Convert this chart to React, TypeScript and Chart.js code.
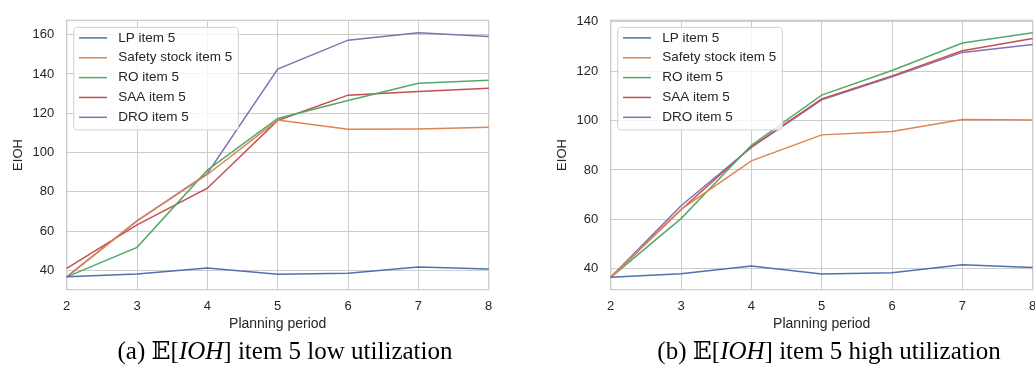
import React, { useEffect, useRef } from 'react';
import { Chart, registerables } from 'chart.js';

Chart.register(...registerables);

// ---- data ----
const periods = ['2', '3', '4', '5', '6', '7', '8'];
const seriesNames = ['LP item 5', 'Safety stock item 5', 'RO item 5', 'SAA item 5', 'DRO item 5'];
const seriesColors = ['#4C72B0', '#DD8452', '#55A868', '#C44E52', '#8172B3'];

const lowLP = [36.7, 38.2, 41.2, 38.0, 38.5, 41.7, 40.7];
const lowSafety = [36.7, 65.2, 88.8, 116.5, 111.8, 112.0, 112.8];
const lowRO = [36.7, 51.7, 91.0, 117.3, 126.5, 135.2, 136.8];
const lowSAA = [41.0, 63.2, 81.8, 116.3, 129.2, 131.0, 132.7];
const lowDRO = [36.7, 65.2, 89.3, 142.5, 157.2, 161.0, 159.0];

const highLP = [36.5, 38.0, 41.1, 37.9, 38.4, 41.6, 40.5];
const highSafety = [36.5, 64.0, 83.7, 94.2, 95.6, 100.4, 100.2];
const highRO = [36.5, 60.3, 90.0, 110.3, 120.3, 131.4, 135.6];
const highSAA = [36.5, 63.9, 89.4, 108.8, 118.1, 128.3, 133.2];
const highDRO = [36.5, 65.5, 89.1, 108.4, 117.7, 127.6, 130.8];

const lowTicks = [40, 60, 80, 100, 120, 140, 160];
const highTicks = [40, 60, 80, 100, 120, 140];

const SANS = '"Liberation Sans", Arial, Helvetica, sans-serif';
const TEXT = '#262626';
const GRID = '#cccccc';

const framePlugin = {
  id: 'frame',
  beforeDatasetsDraw(chart: any) {
    const { ctx, chartArea: a } = chart;
    ctx.save();
    ctx.strokeStyle = GRID;
    ctx.lineWidth = 1.25;
    ctx.strokeRect(a.left, a.top, a.right - a.left, a.bottom - a.top);
    ctx.restore();
  },
};

const legendPlugin = {
  id: 'insideLegend',
  afterDatasetsDraw(chart: any) {
    const { ctx, chartArea: a } = chart;
    ctx.save();
    ctx.font = `13.5px ${SANS}`;
    const names: string[] = chart.data.datasets.map((d: any) => d.label);
    const maxW = Math.max(...names.map((n) => ctx.measureText(n).width));
    const x0 = a.left + 7;
    const y0 = a.top + 7;
    const w = 44.6 + maxW + 6;
    const h = 102.6;
    const r = 3;
    ctx.beginPath();
    ctx.moveTo(x0 + r, y0);
    ctx.lineTo(x0 + w - r, y0);
    ctx.arcTo(x0 + w, y0, x0 + w, y0 + r, r);
    ctx.lineTo(x0 + w, y0 + h - r);
    ctx.arcTo(x0 + w, y0 + h, x0 + w - r, y0 + h, r);
    ctx.lineTo(x0 + r, y0 + h);
    ctx.arcTo(x0, y0 + h, x0, y0 + h - r, r);
    ctx.lineTo(x0, y0 + r);
    ctx.arcTo(x0, y0, x0 + r, y0, r);
    ctx.closePath();
    ctx.fillStyle = 'rgba(255,255,255,0.8)';
    ctx.fill();
    ctx.strokeStyle = '#d0d0d0';
    ctx.lineWidth = 1;
    ctx.stroke();
    chart.data.datasets.forEach((d: any, i: number) => {
      const cy = y0 + 10.6 + i * 19.85;
      ctx.beginPath();
      ctx.strokeStyle = d.borderColor;
      ctx.lineWidth = 1.5;
      ctx.moveTo(x0 + 5.3, cy);
      ctx.lineTo(x0 + 33.3, cy);
      ctx.stroke();
      ctx.fillStyle = TEXT;
      ctx.textBaseline = 'middle';
      ctx.textAlign = 'left';
      ctx.fillText(d.label, x0 + 44.6, cy);
    });
    ctx.restore();
  },
};

type PanelProps = {
  series: number[][];
  yMin: number;
  yMax: number;
  yTicks: number[];
  left: number;
};

function Panel({ series, yMin, yMax, yTicks, left }: PanelProps) {
  const ref = useRef<HTMLCanvasElement>(null);
  useEffect(() => {
    const chart = new Chart(ref.current as HTMLCanvasElement, {
      type: 'line',
      data: {
        labels: periods,
        datasets: series.map((d, i) => ({
          label: seriesNames[i],
          data: d,
          borderColor: seriesColors[i],
          backgroundColor: seriesColors[i],
          borderWidth: 1.5,
          pointRadius: 0,
          tension: 0,
          fill: false,
        })),
      },
      options: {
        animation: false,
        responsive: false,
        devicePixelRatio: 1,
        layout: { padding: { top: 15.7, right: 31.3, left: 0, bottom: 0 } },
        plugins: { legend: { display: false }, tooltip: { enabled: false } },
        scales: {
          x: {
            type: 'category',
            offset: false,
            grid: { color: GRID, lineWidth: 1, drawTicks: false },
            border: { display: false },
            ticks: { color: TEXT, font: { family: SANS, size: 13 }, padding: 9, maxRotation: 0 },
            title: {
              display: true,
              text: 'Planning period',
              color: TEXT,
              font: { family: SANS, size: 14 },
              padding: { top: 0, bottom: 7 },
            },
            afterFit: (s: any) => {
              s.height = 50.3;
            },
          },
          y: {
            type: 'linear',
            min: yMin,
            max: yMax,
            afterBuildTicks: (s: any) => {
              s.ticks = yTicks.map((v) => ({ value: v }));
            },
            grid: { color: GRID, lineWidth: 1, drawTicks: false },
            border: { display: false },
            ticks: { color: TEXT, font: { family: SANS, size: 13 }, padding: 12.5 },
            title: {
              display: true,
              text: 'EIOH',
              color: TEXT,
              font: { family: SANS, size: 13 },
              padding: { top: 10.5, bottom: 0 },
            },
            afterFit: (s: any) => {
              s.width = 66.7;
            },
          },
        },
      },
      plugins: [framePlugin, legendPlugin],
    } as any);
    return () => chart.destroy();
  }, []);
  return (
    <canvas
      ref={ref}
      width={520}
      height={340}
      style={{ position: 'absolute', left, top: 0, width: 520, height: 340 }}
    />
  );
}

const captionStyle: React.CSSProperties = {
  position: 'absolute',
  top: 336,
  width: 600,
  textAlign: 'center',
  fontFamily: '"Liberation Serif", "DejaVu Serif", serif',
  fontSize: 25,
  lineHeight: '30px',
  color: '#000',
  whiteSpace: 'nowrap',
};

export default function App() {
  return (
    <div
      style={{
        position: 'absolute',
        left: 0,
        top: 0,
        width: 1035,
        height: 379,
        overflow: 'hidden',
        background: '#fff',
      }}
    >
      <Panel
        series={[lowLP, lowSafety, lowRO, lowSAA, lowDRO]}
        yMin={30.15}
        yMax={167.3}
        yTicks={lowTicks}
        left={0}
      />
      <Panel
        series={[highLP, highSafety, highRO, highSAA, highDRO]}
        yMin={31.5}
        yMax={140.6}
        yTicks={highTicks}
        left={544}
      />
      <div style={{ ...captionStyle, left: 285 - 300 }}>
        (a) 𝔼[<i>IOH</i>] item 5 low utilization
      </div>
      <div style={{ ...captionStyle, left: 829 - 300 }}>
        (b) 𝔼[<i>IOH</i>] item 5 high utilization
      </div>
    </div>
  );
}
